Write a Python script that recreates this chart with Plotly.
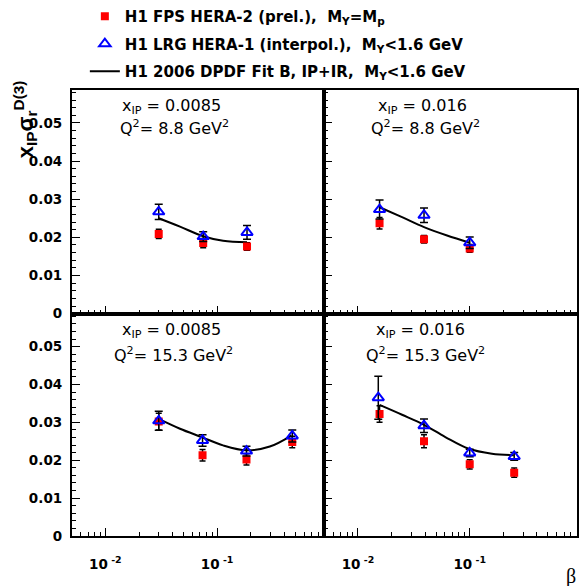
import plotly.graph_objects as go

# ---------------- data (panel order: top-left, top-right, bottom-left, bottom-right)
panel_xip = ["0.0085", "0.016", "0.0085", "0.016"]
panel_q2 = ["8.8", "8.8", "15.3", "15.3"]

fps_beta = [[0.030, 0.075, 0.185],
            [0.0156, 0.039, 0.100],
            [0.030, 0.074, 0.183, 0.47],
            [0.0156, 0.039, 0.100, 0.25]]
fps_val = [[0.0209, 0.0185, 0.0176],
           [0.0237, 0.0195, 0.0171],
           [0.0302, 0.0213, 0.0202, 0.0248],
           [0.0322, 0.0250, 0.0189, 0.0167]]
fps_err = [[0.0012, 0.0012, 0.0010],
           [0.0015, 0.0010, 0.0010],
           [0.0022, 0.0015, 0.0015, 0.0015],
           [0.0022, 0.0017, 0.0012, 0.0012]]

lrg_beta = [[0.030, 0.075, 0.185],
            [0.0156, 0.039, 0.100],
            [0.030, 0.074, 0.183, 0.47],
            [0.0152, 0.039, 0.100, 0.25]]
lrg_val = [[0.0267, 0.0202, 0.0213],
           [0.0273, 0.0258, 0.0186],
           [0.0304, 0.0252, 0.0224, 0.0264],
           [0.0365, 0.0291, 0.0219, 0.0210]]
lrg_err = [[0.0020, 0.0013, 0.0018],
           [0.0025, 0.0019, 0.0015],
           [0.0025, 0.0015, 0.0013, 0.0016],
           [0.0057, 0.0018, 0.0010, 0.0010]]

fit_beta = [[0.030, 0.0465, 0.075, 0.113, 0.185],
            [0.0156, 0.0248, 0.039, 0.0627, 0.100],
            [0.030, 0.0465, 0.0726, 0.113, 0.183, 0.296, 0.461],
            [0.0156, 0.0248, 0.0387, 0.0605, 0.098, 0.158, 0.248]]
fit_val = [[0.0250, 0.0228, 0.0203, 0.0191, 0.0187],
           [0.0279, 0.0253, 0.0227, 0.0205, 0.0186],
           [0.0309, 0.0283, 0.0261, 0.0239, 0.0226, 0.0236, 0.0265],
           [0.0346, 0.0320, 0.0294, 0.0261, 0.0230, 0.0217, 0.0213]]

legend_names = ["H1 FPS HERA-2 (prel.),  M<sub>Y</sub>=M<sub>p</sub>",
                "H1 LRG HERA-1 (interpol.),  M<sub>Y</sub>&lt;1.6 GeV",
                "H1 2006 DPDF Fit B, IP+IR,  M<sub>Y</sub>&lt;1.6 GeV"]

x_tickvals = [0.01, 0.1]
x_ticktext = ["10<sup> -2</sup>", "10<sup> -1</sup>"]
x_minor = [0.006, 0.007, 0.008, 0.009, 0.02, 0.03, 0.04, 0.05, 0.06, 0.07, 0.08, 0.09,
           0.2, 0.3, 0.4, 0.5, 0.6, 0.7, 0.8, 0.9]
y_tickvals = [0, 0.01, 0.02, 0.03, 0.04, 0.05]
y_ticktext = ["0", "0.01", "0.02", "0.03", "0.04", "0.05"]

# ---------------- layout geometry
W, H = 579, 586
xdom = [[72 / W, 325 / W], [325 / W, 578 / W]]
ydom = [[(H - 318) / H, (H - 91) / H], [(H - 543.3) / H, (H - 318) / H]]

FONT = "DejaVu Sans"
fig = go.Figure()

for i in range(4):
    xa = "x" if i == 0 else f"x{i + 1}"
    ya = "y" if i == 0 else f"y{i + 1}"
    first = i == 0
    fig.add_trace(go.Scatter(
        x=fit_beta[i], y=fit_val[i], xaxis=xa, yaxis=ya, mode="lines",
        line=dict(color="black", width=2, shape="spline", smoothing=1.0),
        name=legend_names[2], showlegend=first, legendgroup="c", legendrank=3))
    fig.add_trace(go.Scatter(
        x=fps_beta[i], y=fps_val[i], xaxis=xa, yaxis=ya, mode="markers",
        marker=dict(symbol="square", color="#ff0000", size=8, line=dict(width=0)),
        error_y=dict(type="data", array=fps_err[i], color="black", thickness=1.5, width=3),
        name=legend_names[0], showlegend=first, legendgroup="a", legendrank=1))
    fig.add_trace(go.Scatter(
        x=lrg_beta[i], y=lrg_val[i], xaxis=xa, yaxis=ya, mode="markers",
        marker=dict(symbol="triangle-up-open", color="#0000ff", size=10,
                    line=dict(width=2, color="#0000ff")),
        error_y=dict(type="data", array=lrg_err[i], color="black", thickness=1.5, width=4),
        name=legend_names[1], showlegend=first, legendgroup="b", legendrank=2))

tickfont = dict(family=FONT, size=13.5, color="black", weight="bold")
layout_axes = {}
for i in range(4):
    col = i % 2
    row = i // 2
    xkey = "xaxis" if i == 0 else f"xaxis{i + 1}"
    ykey = "yaxis" if i == 0 else f"yaxis{i + 1}"
    ya = "y" if i == 0 else f"y{i + 1}"
    xa = "x" if i == 0 else f"x{i + 1}"
    layout_axes[xkey] = dict(
        type="log", range=[-2.30, -0.04], domain=xdom[col], anchor=ya,
        showline=True, linecolor="black", linewidth=2, mirror=True,
        showgrid=False, zeroline=False,
        ticks="inside", ticklen=8, tickwidth=1, tickcolor="black",
        tickmode="array", tickvals=x_tickvals, ticktext=x_ticktext,
        showticklabels=(row == 1), tickfont=tickfont, ticklabelstandoff=15,
        minor=dict(ticks="inside", ticklen=4, tickwidth=1, tickcolor="black",
                   tickmode="array", tickvals=x_minor, showgrid=False))
    layout_axes[ykey] = dict(
        range=[0, 0.0587], domain=ydom[row], anchor=xa,
        showline=True, linecolor="black", linewidth=2, mirror=True,
        showgrid=False, zeroline=False,
        ticks="inside", ticklen=8, tickwidth=1, tickcolor="black",
        tickmode="array", tickvals=y_tickvals, ticktext=y_ticktext,
        showticklabels=(col == 0), tickfont=tickfont, ticklabelstandoff=5,
        minor=dict(ticks="inside", ticklen=4, tickwidth=1, tickcolor="black",
                   dtick=0.002, tick0=0, showgrid=False))

annots = []
label_pos = [(120, 118, 108, 129), (377, 370, 108, 129), (120, 112, 335, 359), (375, 365, 335, 359)]
for i in range(4):
    x1, x2, y1, y2 = label_pos[i]
    annots.append(dict(xref="paper", yref="paper", x=x1 / W, y=1 - y1 / H,
                       xanchor="left", yanchor="middle", showarrow=False,
                       text=f"x<sub>IP</sub> = {panel_xip[i]}",
                       font=dict(family=FONT, size=16, color="black")))
    annots.append(dict(xref="paper", yref="paper", x=x2 / W, y=1 - y2 / H,
                       xanchor="left", yanchor="middle", showarrow=False,
                       text=f"Q<sup>2</sup>= {panel_q2[i]} GeV<sup>2</sup>",
                       font=dict(family=FONT, size=16, color="black")))

annots.append(dict(xref="paper", yref="paper", x=25 / W, y=1 - 121 / H,
                   xanchor="center", yanchor="middle", showarrow=False, textangle=-90,
                   text="x<sub>IP</sub>σ<sub>r</sub><sup>D(3)</sup>",
                   font=dict(family="Liberation Sans", size=22, color="black", weight="bold")))
annots.append(dict(xref="paper", yref="paper", x=572 / W, y=1 - 584 / H,
                   xanchor="center", yanchor="middle", showarrow=False,
                   text="β", font=dict(family="Liberation Serif", size=20, color="black")))

fig.update_layout(
    width=W, height=H, margin=dict(l=0, r=0, t=0, b=0),
    paper_bgcolor="white", plot_bgcolor="white",
    showlegend=True,
    legend=dict(x=85 / W, y=1.0, xanchor="left", yanchor="top",
                bgcolor="rgba(0,0,0,0)", borderwidth=0,
                font=dict(family=FONT, size=15, color="black", weight="bold"),
                tracegroupgap=5, itemwidth=30, traceorder="grouped"),
    annotations=annots,
    **layout_axes)

fig.write_html("out.html", config={"displayModeBar": False},
               post_script="document.body.style.margin='0';")
